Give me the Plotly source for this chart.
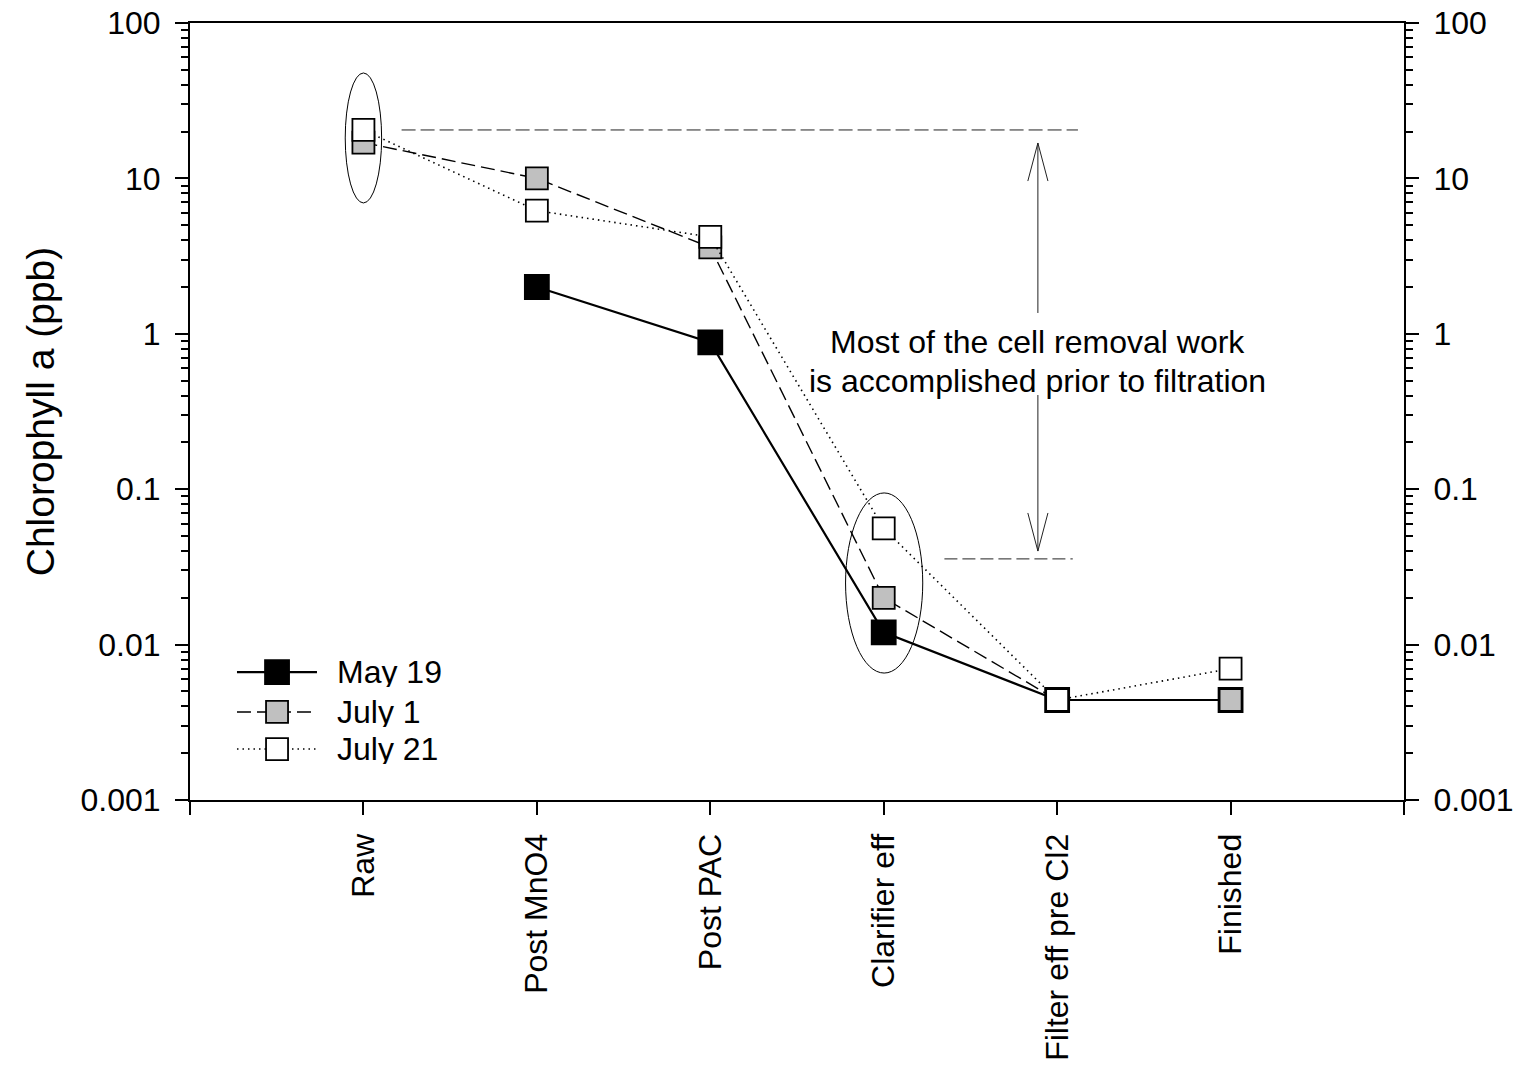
import math
import plotly.graph_objects as go

# Treatment stages along the plant
categories = ["Raw", "Post MnO4", "Post PAC", "Clarifier eff", "Filter eff pre Cl2", "Finished"]

# Chlorophyll a (ppb) per sampling date
may19 = [None, 2.0, 0.88, 0.012, 0.0044, 0.0044]
july1 = [17.0, 10.0, 3.6, 0.020, 0.0044, 0.0044]
july21 = [20.5, 6.2, 4.2, 0.056, 0.0044, 0.0070]
series_names = ["May 19", "July 1", "July 21"]

y_tick_values = [0.001, 0.01, 0.1, 1, 10, 100]
y_tick_labels = ["0.001", "0.01", "0.1", "1", "10", "100"]
y_title = "Chlorophyll a (ppb)"
note_lines = ["Most of the cell removal work", "is accomplished prior to filtration"]

FONT = "Liberation Sans, Arial, Helvetica, sans-serif"
X_RANGE = [-1, 6]
Y_LOG_RANGE = [-3, 2]

x_idx = list(range(len(categories)))


def yp(v):
    """Data value -> paper fraction on the log y axis."""
    return (math.log10(v) - Y_LOG_RANGE[0]) / (Y_LOG_RANGE[1] - Y_LOG_RANGE[0])


minor_vals = [m * 10 ** e for e in range(Y_LOG_RANGE[0], Y_LOG_RANGE[1]) for m in range(2, 10)]

series_style = [
    dict(fill="black", size=24, dash="solid", width=2.2),
    dict(fill="#c0c0c0", size=22, dash="14px,6px", width=1.4),
    dict(fill="white", size=22, dash="1.5px,4px", width=1.6),
]

fig = go.Figure()
for name, vals, st, yax in zip(series_names, [may19, july1, july21], series_style, ["y", "y", "y2"]):
    fig.add_trace(go.Scatter(
        x=x_idx, y=vals, name=name, mode="lines+markers", yaxis=yax,
        connectgaps=False, showlegend=False,
        line=dict(color="black", width=st["width"], dash=st["dash"]),
        marker=dict(symbol="square", size=st["size"], color=st["fill"],
                    line=dict(color="black", width=1.8)),
    ))

shapes = []
ann = []
thin = dict(color="#222", width=1)

# ellipses around the raw and clarifier samples
for (xa, xb, ya, yb) in [(-0.105, 0.105, 6.95, 47.7), (2.78, 3.225, 0.00656, 0.0946)]:
    shapes.append(dict(type="circle", xref="x", yref="paper", x0=xa, x1=xb,
                       y0=yp(ya), y1=yp(yb), line=dict(color="black", width=1)))

# reference levels before and after clarification
shapes.append(dict(type="line", xref="x", yref="paper", x0=0.22, x1=4.12,
                   y0=yp(july21[0]), y1=yp(july21[0]), line=dict(color="#222", width=1, dash="14px,5px")))
shapes.append(dict(type="line", xref="x", yref="paper", x0=3.35, x1=4.09,
                   y0=yp(0.0356), y1=yp(0.0356), line=dict(color="#222", width=1, dash="13px,5px")))

# double-headed arrow between the two levels
ax_x = 3.889
shapes.append(dict(type="line", xref="x", yref="paper", x0=ax_x, x1=ax_x,
                   y0=yp(16.9), y1=yp(10 ** 0.134), line=thin))
shapes.append(dict(type="line", xref="x", yref="paper", x0=ax_x, x1=ax_x,
                   y0=yp(10 ** -0.394), y1=yp(10 ** -1.398), line=thin))
for tip, barb in [(16.9, 10 ** 0.983), (10 ** -1.398, 10 ** -1.153)]:
    for dx in (-0.058, 0.058):
        shapes.append(dict(type="line", xref="x", yref="paper", x0=ax_x, x1=ax_x + dx,
                           y0=yp(tip), y1=yp(barb), line=thin))

for line_txt, yv in zip(note_lines, [0.885, 0.497]):
    ann.append(dict(x=ax_x, y=yp(yv), xref="x", yref="paper", text=line_txt, showarrow=False,
                    xanchor="center", yanchor="middle", font=dict(size=32, color="black", family=FONT)))

# hand-drawn legend block (lower left)
leg_rows = [0.1647, 0.1133, 0.0656]
leg_x0, leg_x1, leg_mx, leg_tx = 0.0387, 0.1046, 0.0717, 0.1203
for name, st, ly in zip(series_names, series_style, leg_rows):
    shapes.append(dict(type="line", xref="paper", yref="paper", x0=leg_x0, x1=leg_x1, y0=ly, y1=ly,
                       line=dict(color="black", width=st["width"], dash=st["dash"])))
    h = st["size"] / 2
    shapes.append(dict(type="rect", xref="paper", yref="paper", xsizemode="pixel", ysizemode="pixel",
                       xanchor=leg_mx, yanchor=ly, x0=-h, x1=h, y0=-h, y1=h,
                       fillcolor=st["fill"], line=dict(color="black", width=1.8)))
    ann.append(dict(x=leg_tx, y=ly, xref="paper", yref="paper", text=name, showarrow=False,
                    xanchor="left", yanchor="middle", height=30, valign="middle", borderpad=0,
                    font=dict(size=32, color="black", family=FONT)))

y_common = dict(
    type="log", range=Y_LOG_RANGE, tickmode="array", tickvals=y_tick_values, ticktext=y_tick_labels,
    ticks="outside", ticklen=13, tickwidth=2, tickcolor="black",
    showline=True, linewidth=2, linecolor="black", showgrid=False, zeroline=False,
    tickfont=dict(size=32, color="black", family=FONT), ticklabelstandoff=8, automargin=False,
    minor=dict(tickmode="array", tickvals=minor_vals, ticks="outside", ticklen=7,
               tickwidth=2, tickcolor="black", showgrid=False),
)

fig.update_layout(
    width=1521, height=1076,
    margin=dict(l=190, r=117, t=23, b=276, autoexpand=False),
    paper_bgcolor="white", plot_bgcolor="white",
    font=dict(family=FONT, color="black"),
    showlegend=False,
    xaxis=dict(
        range=X_RANGE, tickmode="array", tickvals=list(range(-1, 7)),
        ticktext=[""] + categories + [""], tickangle=-90,
        ticks="outside", ticklen=13, tickwidth=2, tickcolor="black",
        showline=True, linewidth=2, linecolor="black", mirror=True,
        showgrid=False, zeroline=False, ticklabelstandoff=6, automargin=False,
        tickfont=dict(size=32, color="black", family=FONT),
    ),
    yaxis=dict(**y_common, side="left",
               title=dict(text=y_title, font=dict(size=39, color="black", family=FONT), standoff=14)),
    yaxis2=dict(**y_common, side="right", overlaying="y"),
    shapes=shapes,
    annotations=ann,
)

fig.write_html("out.html")
